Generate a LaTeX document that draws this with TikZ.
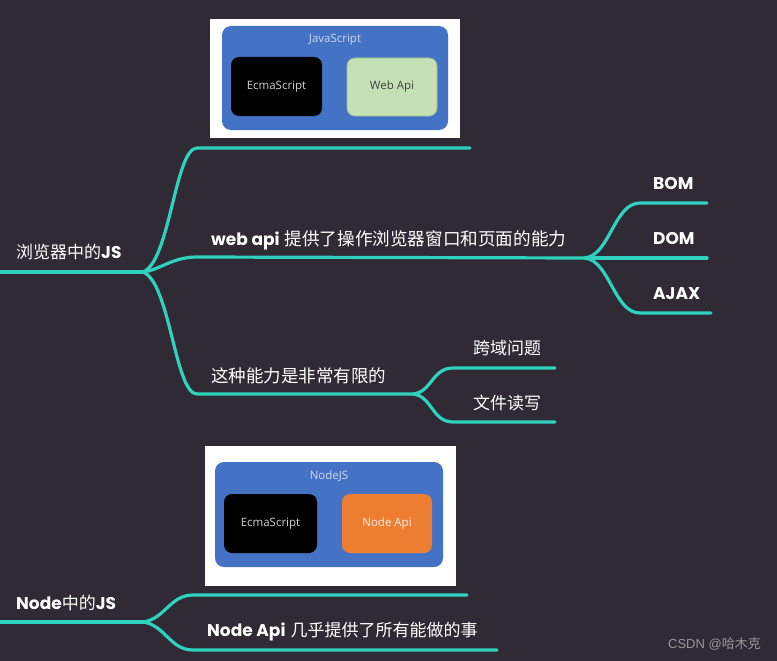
\documentclass[tikz,border=0pt]{standalone}
\usepackage{fontspec}
\setmainfont{Poppins}
\newfontfamily\cjk{Noto Sans CJK SC}
\newfontfamily\boxfont{Open Sans}
\newfontfamily\markfont{Liberation Sans}
\newcommand{\zh}[1]{{\cjk #1}}

\definecolor{bgdark}{RGB}{47,42,52}
\definecolor{teal}{RGB}{46,210,190}
\definecolor{frameblue}{RGB}{68,114,196}
\definecolor{webgreen}{RGB}{197,224,180}
\definecolor{webgreenline}{RGB}{160,196,140}
\definecolor{nodeorange}{RGB}{237,125,49}
\definecolor{lightlabel}{RGB}{205,216,240}

\begin{document}
\begin{tikzpicture}[x=1pt,y=-1pt,
	branch/.style={draw=teal,line width=3.2pt,line cap=round},
	topic/.style={text=white,anchor=base west,inner sep=0pt,font=\fontsize{17}{20}\selectfont},
	frame/.style={fill=white,minimum width=#1,inner sep=0pt},
	panel/.style={fill=frameblue,rounded corners=9pt,inner sep=0pt},
	part/.style={rounded corners=8pt,inner sep=0pt,minimum width=91pt,minimum height=59pt,font=\boxfont\fontsize{11.5}{13}\selectfont},
	]
	
	\fill[bgdark] (0,0) rectangle (777,661);
	\useasboundingbox (0,0) rectangle (777,661);
	
	% JavaScript picture
	\node[frame=250pt,minimum height=119pt] (jsframe) at (335,78.5) {};
	\node[panel,minimum width=226pt,minimum height=104pt] (jsbox) at (335,78) {};
	\node[text=lightlabel,font=\boxfont\fontsize{11.5}{13}\selectfont] (jslabel) at (335,40) {JavaScript};
	\node[part,fill=black,text=white!82!black] (ecma1) at (276.5,86.5) {EcmaScript};
	\node[part,fill=webgreen,draw=webgreenline,line width=0.8pt,text=black!75,minimum width=90pt,minimum height=58pt] (webapi) at (392,87) {Web Api};
	
	% NodeJS picture
	\node[frame=251pt,minimum height=140pt] (nodeframe) at (330.5,516) {};
	\node[panel,minimum width=228pt,minimum height=105pt] (nodebox) at (329,514.5) {};
	\node[text=lightlabel,font=\boxfont\fontsize{11.5}{13}\selectfont] (nodelabel) at (329,476) {NodeJS};
	\node[part,fill=black,text=white!82!black,minimum width=93pt] (ecma2) at (270.5,523.5) {EcmaScript};
	\node[part,fill=nodeorange,text=white!90!orange,minimum width=90pt] (nodeapi) at (387,523.5) {Node Api};
	
	% browser branch
	\coordinate (r1) at (0,272);
	\coordinate (j1) at (143,272);
	\coordinate (a1) at (197,148);
	\coordinate (a2) at (470,148);
	\coordinate (b1) at (197,257);
	\coordinate (j2) at (585,258);
	\coordinate (c1) at (197,394);
	\coordinate (j3) at (413,394);
	
	\coordinate (d1) at (640,203);
	\coordinate (d2) at (707,203);
	\coordinate (e2) at (707,258);
	\coordinate (f1) at (640,313);
	\coordinate (f2) at (711,313);
	
	\coordinate (g1) at (453,368);
	\coordinate (g2) at (555,368);
	\coordinate (h1) at (453,422);
	\coordinate (h2) at (555,422);
	
	\draw[branch] (r1) -- (j1);
	\draw[branch] (j1) .. controls (170,262) and (175,148) .. (a1) -- (a2);
	\draw[branch] (j1) .. controls (160,270) and (172,257) .. (b1) -- (j2);
	\draw[branch] (j1) .. controls (170,282) and (175,394) .. (c1) -- (j3);
	
	\draw[branch] (j2) .. controls (610,255) and (614,203) .. (d1) -- (d2);
	\draw[branch] (j2) -- (e2);
	\draw[branch] (j2) .. controls (610,261) and (614,313) .. (f1) -- (f2);
	
	\draw[branch] (j3) .. controls (432,392) and (432,368) .. (g1) -- (g2);
	\draw[branch] (j3) .. controls (432,396) and (432,422) .. (h1) -- (h2);
	
	\node[topic] (browser) at (16,258) {\zh{浏览器中的}\textbf{JS}};
	\node[topic] (web) at (211,245) {\textbf{web api}\hspace{5pt}\zh{\fontsize{17.6}{20}\selectfont 提供了操作浏览器窗口和页面的能力}};
	\node[topic] (bom) at (653,189) {\textbf{BOM}};
	\node[topic] (dom) at (653,244) {\textbf{DOM}};
	\node[topic] (ajax) at (653,299) {\textbf{AJAX}};
	\node[topic] (limit) at (211,382) {\zh{\fontsize{17.5}{20}\selectfont 这种能力是非常有限的}};
	\node[topic] (cross) at (473,354) {\zh{跨域问题}};
	\node[topic] (file) at (473,409) {\zh{文件读写}};
	
	% node branch
	\coordinate (r2) at (0,622);
	\coordinate (j4) at (143,622);
	\coordinate (k1) at (193,595);
	\coordinate (k2) at (467,595);
	\coordinate (m1) at (193,650);
	\coordinate (m2) at (497,650);
	
	\draw[branch] (r2) -- (j4);
	\draw[branch] (j4) .. controls (165,619) and (170,595) .. (k1) -- (k2);
	\draw[branch] (j4) .. controls (165,625) and (170,650) .. (m1) -- (m2);
	
	\node[topic] (noderoot) at (16,609) {\textbf{Node}\zh{中的}\textbf{JS}};
	\node[topic] (nodetext) at (207,636) {\textbf{Node Api}\hspace{5pt}\zh{几乎提供了所有能做的事}};
	
	\node[text=black!40,anchor=base east,inner sep=0pt,font=\markfont\fontsize{13}{15}\selectfont] (mark) at (761,648) {CSDN @\zh{哈木克}};
\end{tikzpicture}
\end{document}
